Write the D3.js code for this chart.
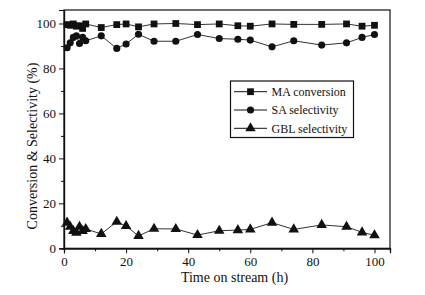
<!DOCTYPE html>
<html><head><meta charset="utf-8">
<script src="https://cdn.jsdelivr.net/npm/d3@7"></script>
<style>body{margin:0;background:#fff}svg{display:block}text{font-family:"Liberation Serif","Times New Roman",serif;fill:#111}</style>
</head><body>
<script>
const times = [1,2,3,4,5,6,7,12,17,20,24,29,36,43,50,56,60,67,74,83,91,96,100];
const maConversion = [99.5,99.2,99.8,98.8,99.0,97.8,99.8,98.2,99.5,99.8,98.5,99.8,100,99.5,99.8,99.0,98.8,99.8,99.6,99.6,99.8,98.8,99.2];
const saSelectivity = [89.2,91.4,93.8,94.5,91.1,93.8,92.3,94.5,88.9,90.9,95.2,92.1,92.1,95.1,93.3,93.0,92.6,89.6,92.3,90.4,91.4,93.8,95.1];
const gblSelectivity = [11.4,9.6,7.7,6.9,9.6,7.7,8.6,6.4,11.8,9.9,5.5,8.7,8.6,5.9,7.8,8.1,8.4,11.4,8.4,10.4,9.6,7.1,5.8];
const seriesNames = ["MA conversion","SA selectivity","GBL selectivity"];
const xTicks = [0,20,40,60,80,100];
const yTicks = [0,20,40,60,80,100];
const xMinor = [10,30,50,70,90];
const yMinor = [10,30,50,70,90];

const W=425,H=295;
const L=64,R=390,T=10,B=248.3;
const svg=d3.select("body").append("svg").attr("width",W).attr("height",H);
const x=d3.scaleLinear().domain([0,105]).range([L,R]);
const y=d3.scaleLinear().domain([0,106]).range([B,T]);

// frame
svg.append("rect").attr("x",L).attr("y",T).attr("width",R-L).attr("height",B-T)
  .attr("fill","none").attr("stroke","#111").attr("stroke-width",1.2);

const xa=svg.append("g").attr("transform",`translate(0,${B})`)
  .call(d3.axisBottom(x).tickValues(xTicks).tickSize(5).tickPadding(3).tickFormat(d3.format("d")));
const xm=svg.append("g").attr("transform",`translate(0,${B})`)
  .call(d3.axisBottom(x).tickValues(xMinor).tickSize(3).tickFormat(""));
const ya=svg.append("g").attr("transform",`translate(${L},0)`)
  .call(d3.axisLeft(y).tickValues(yTicks).tickSize(5).tickPadding(3).tickFormat(d3.format("d")));
const ym=svg.append("g").attr("transform",`translate(${L},0)`)
  .call(d3.axisLeft(y).tickValues(yMinor).tickSize(3).tickFormat(""));
[xa,xm,ya,ym].forEach(g=>{
  g.select(".domain").attr("stroke","#111").attr("stroke-width",1.2);
  g.selectAll(".tick line").attr("stroke","#111").attr("stroke-width",1);
  g.selectAll("text").attr("font-size",13).attr("font-family","Liberation Serif, serif").attr("fill","#111");
});

const symbols=[d3.symbolSquare,d3.symbolCircle,d3.symbolTriangle];
const sizes=[46,40,48];
const allSeries=[maConversion,saSelectivity,gblSelectivity];
const line=d3.line().x(d=>x(d[0])).y(d=>y(d[1]));
allSeries.forEach((vals,i)=>{
  const pts=times.map((t,j)=>[t,vals[j]]);
  svg.append("path").datum(pts).attr("d",line).attr("fill","none").attr("stroke","#333").attr("stroke-width",1);
  svg.append("g").selectAll("path").data(pts).join("path")
    .attr("transform",d=>`translate(${x(d[0])},${y(d[1])})`)
    .attr("d",d3.symbol().type(symbols[i]).size(sizes[i]))
    .attr("fill","#111");
});

// legend
const lg=svg.append("g");
lg.append("rect").attr("x",230.5).attr("y",81).attr("width",123).attr("height",56.5)
  .attr("fill","#fff").attr("stroke","#111").attr("stroke-width",1.2);
seriesNames.forEach((n,i)=>{
  const ly=91.7+i*18.3;
  lg.append("line").attr("x1",234).attr("x2",267).attr("y1",ly).attr("y2",ly).attr("stroke","#111").attr("stroke-width",1);
  lg.append("path").attr("transform",`translate(250.5,${ly})`).attr("d",d3.symbol().type(symbols[i]).size(sizes[i])).attr("fill","#111");
  lg.append("text").attr("x",271.5).attr("y",ly+4.2).attr("font-size",12).text(n);
});

svg.append("text").attr("x",234.5).attr("y",282).attr("text-anchor","middle").attr("font-size",14).text("Time on stream (h)");
svg.append("text").attr("transform","translate(37,146) rotate(-90)").attr("text-anchor","middle").attr("font-size",14).text("Conversion & Selectivity (%)");
</script>
</body></html>
